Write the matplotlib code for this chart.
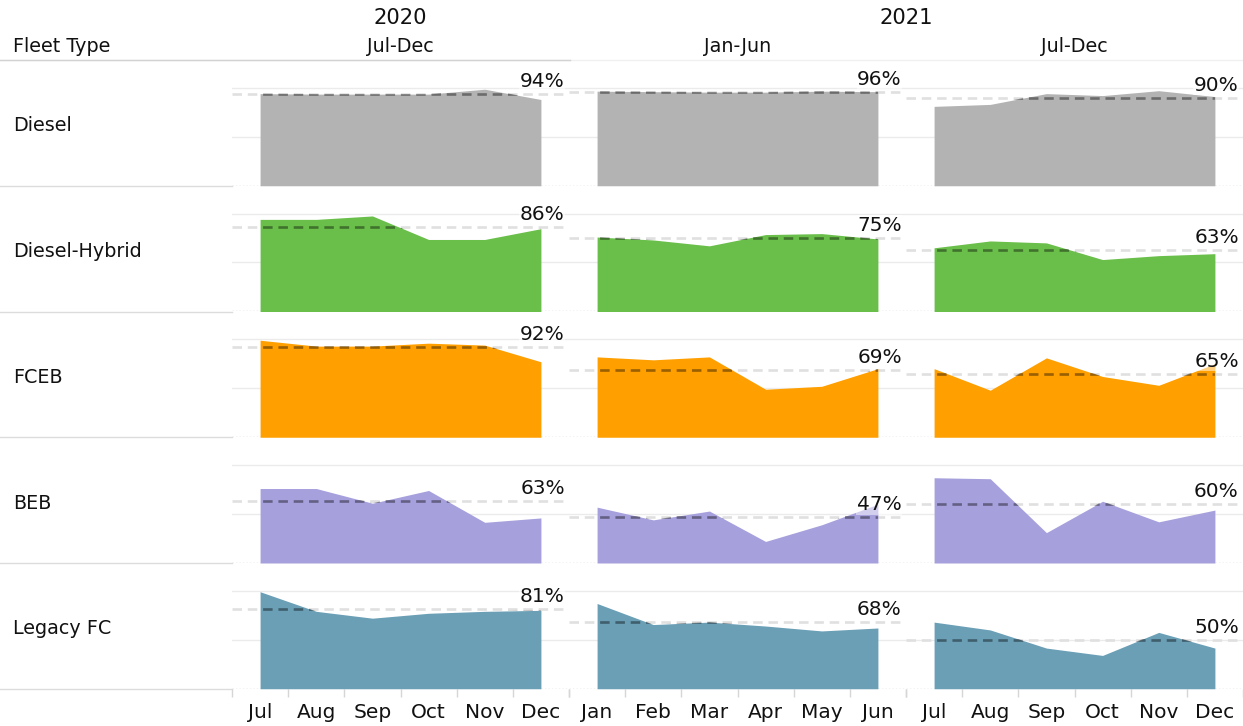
import matplotlib
matplotlib.use("Agg")
import matplotlib.pyplot as plt
import numpy as np

# ---------------- data ----------------
fleet_types = ["Diesel", "Diesel-Hybrid", "FCEB", "BEB", "Legacy FC"]
colors = ["#b3b3b3", "#6abf4a", "#ff9f00", "#a6a0dd", "#6a9fb6"]
years = ["2020", "2021"]
periods = ["Jul-Dec", "Jan-Jun", "Jul-Dec"]
months_h2 = ["Jul", "Aug", "Sep", "Oct", "Nov", "Dec"]
months_h1 = ["Jan", "Feb", "Mar", "Apr", "May", "Jun"]

# availability per month, one list per period (2020 Jul-Dec, 2021 Jan-Jun, 2021 Jul-Dec)
diesel = [[0.94, 0.935, 0.935, 0.935, 0.985, 0.88],
          [0.965, 0.96, 0.955, 0.955, 0.965, 0.96],
          [0.81, 0.83, 0.94, 0.92, 0.97, 0.91]]
diesel_hybrid = [[0.94, 0.94, 0.975, 0.735, 0.735, 0.845],
                 [0.76, 0.73, 0.67, 0.785, 0.795, 0.74],
                 [0.65, 0.72, 0.70, 0.53, 0.57, 0.59]]
fceb = [[0.99, 0.93, 0.93, 0.96, 0.94, 0.77],
        [0.82, 0.79, 0.82, 0.49, 0.52, 0.70],
        [0.70, 0.48, 0.81, 0.62, 0.53, 0.75]]
beb = [[0.76, 0.76, 0.61, 0.74, 0.415, 0.46],
       [0.57, 0.44, 0.53, 0.22, 0.39, 0.60],
       [0.87, 0.86, 0.31, 0.63, 0.42, 0.54]]
legacy_fc = [[0.99, 0.79, 0.72, 0.77, 0.79, 0.80],
             [0.87, 0.655, 0.68, 0.64, 0.59, 0.62],
             [0.68, 0.60, 0.415, 0.34, 0.575, 0.415]]

# period averages (labels, %)
avg_diesel = [94, 96, 90]
avg_diesel_hybrid = [86, 75, 63]
avg_fceb = [92, 69, 65]
avg_beb = [63, 47, 60]
avg_legacy_fc = [81, 68, 50]

series = [diesel, diesel_hybrid, fceb, beb, legacy_fc]
averages = [avg_diesel, avg_diesel_hybrid, avg_fceb, avg_beb, avg_legacy_fc]
month_labels = [months_h2, months_h1, months_h2]

# ---------------- layout ----------------
W, H = 1243, 726
fig = plt.figure(figsize=(W / 100, H / 100), dpi=100)
plt.rcParams["font.family"] = ["DejaVu Sans"]

bg = fig.add_axes([0, 0, 1, 1], zorder=0)
bg.set_xlim(0, W)
bg.set_ylim(H, 0)
bg.axis("off")

top = 60.0
rh = 125.75
left0 = 232.0
pw = 337.0
unit = 98.0
ytop = rh / unit

txt_color = "#111111"

# header
bg.plot([0, W], [top, top], color="#f0f0f0", lw=1, zorder=0)
bg.plot([0, 570], [top, top], color="#d2d2d2", lw=1, zorder=1)
bg.text(left0 + pw / 2, 18, years[0], ha="center", va="center", fontsize=15.2, color=txt_color)
bg.text(left0 + pw * 2, 18, years[1], ha="center", va="center", fontsize=15.2, color=txt_color)
for c, p in enumerate(periods):
    bg.text(left0 + pw * (c + 0.5), 46, p, ha="center", va="center", fontsize=13.8, color=txt_color)
bg.text(13, 46, "Fleet Type", ha="left", va="center", fontsize=13.8, color=txt_color)

dash = (0, (3.6, 2.2))

for r, ft in enumerate(fleet_types):
    ybot = top + (r + 1) * rh
    bg.plot([0, left0], [ybot, ybot], color="#dcdcdc", lw=1, zorder=1)
    bg.text(13, top + (r + 0.5) * rh + 3, ft, ha="left", va="center", fontsize=13.8, color=txt_color)
    for c in range(3):
        x0 = left0 + c * pw
        ax = fig.add_axes([x0 / W, 1 - ybot / H, pw / W, rh / H], zorder=1)
        ax.patch.set_alpha(0)
        ax.set_xlim(-0.5, 5.5)
        ax.set_ylim(0, ytop)
        for s in ax.spines.values():
            s.set_visible(False)
        vals = np.array(series[r][c])
        avg = averages[r][c] / 100.0
        x = np.arange(len(vals))

        for g in (0.5, 1.0):
            ax.plot([-0.5, 5.5], [g, g], color="#ebebeb", lw=1, zorder=0)
        ax.plot([-0.5, 5.5], [0, 0], color="#c4c4c4", lw=1, ls=(0, (1, 1.5)), zorder=0)
        ax.plot([-0.5, 5.5], [avg, avg], color="#e0e0e0", lw=1.9, ls=dash, zorder=1)
        poly = ax.fill_between(x, vals, 0, color=colors[r], lw=0, zorder=2)
        dl, = ax.plot([-0.5, 5.5], [avg, avg], color="black", alpha=0.4, lw=1.9, ls=dash, zorder=3)
        dl.set_clip_path(poly.get_paths()[0], ax.transData)

        ax.annotate(f"{averages[r][c]}%", xy=(5.5, avg), xytext=(-3, 5),
                    textcoords="offset points", ha="right", va="baseline",
                    fontsize=14.5, color=txt_color, zorder=5,
                    bbox=dict(facecolor="white", alpha=0.5, edgecolor="none", pad=0.5))

        ax.set_yticks([])
        if r == len(fleet_types) - 1:
            ax.set_xticks(x)
            ax.set_xticklabels(month_labels[c], fontsize=14.5, color=txt_color)
            ax.tick_params(axis="x", which="major", length=0, pad=10.5)
            ax.set_xticks(np.arange(-0.5, 6.0, 1.0), minor=True)
            ax.tick_params(axis="x", which="minor", length=6, color="#d6d6d6", width=1)
        else:
            ax.set_xticks([])

fig.savefig("out.png", dpi=100)
